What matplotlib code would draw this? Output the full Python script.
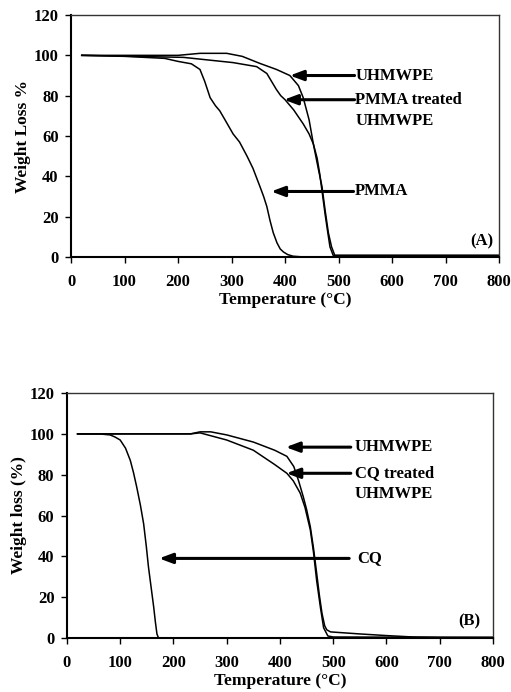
import matplotlib.pyplot as plt

# ---- panel A data ----
temp_uhmwpe_a = [20, 100, 200, 241, 291, 320, 353, 384, 409, 425, 434, 445, 453, 462, 469, 475, 481, 487, 493, 500, 600, 700, 800]
wt_uhmwpe_a = [100, 100, 100, 101, 101, 99.5, 96, 93, 90, 85, 79, 68, 56, 44, 35, 23, 12, 5, 0.8, 0.8, 0.8, 0.8, 0.8]

temp_treated_a = [20, 100, 210, 260, 303, 347, 366, 375, 384, 392, 400, 416, 434, 445, 453, 460, 465, 470, 475, 480, 484, 490, 500, 800]
wt_treated_a = [100, 99.6, 99, 97.6, 96.4, 94.4, 91, 87, 83, 80, 78, 73, 66, 61, 56, 49, 41, 31, 21, 12, 5, 0.8, 0.8, 0.8]

temp_pmma = [20, 100, 175, 200, 225, 241, 250, 260, 270, 278, 290, 303, 315, 329, 340, 353, 360, 366, 372, 378, 385, 391, 397, 405, 415, 430, 500, 800]
wt_pmma = [100, 99.5, 98.5, 97, 95.8, 93, 87, 79, 75, 72.5, 67, 61, 57, 50, 44, 35, 30, 25, 18, 12, 7, 4, 2.5, 1.2, 0.4, 0.1, 0, 0]

# ---- panel B data ----
temp_uhmwpe_b = [20, 100, 232, 250, 270, 300, 350, 390, 413, 426, 435, 444, 450, 457, 463, 469, 474, 479, 484, 488, 495, 550, 600, 650, 700, 800]
wt_uhmwpe_b = [100, 100, 100, 101, 101, 99.5, 96, 92, 89, 84, 77, 69, 63, 54.5, 44, 31.6, 21, 12, 6, 4, 3, 2, 1.2, 0.5, 0.3, 0.3]

temp_treated_b = [20, 100, 232, 250, 300, 350, 390, 413, 425, 438, 447, 457, 463, 469, 476, 482, 490, 500, 800]
wt_treated_b = [100, 100, 100, 100.5, 97, 92, 85, 80.7, 77, 71, 64, 53, 42, 28, 15, 5, 1, 0.5, 0.3]

temp_cq = [20, 60, 81, 90, 100, 110, 119, 125, 131, 138, 144, 149, 153, 158, 163, 166, 169, 172]
wt_cq = [100, 100, 99.5, 98.5, 97, 93, 87, 81, 74, 65, 56, 45, 35, 25, 15, 8, 2, 0]

font = 'Liberation Serif'
plt.rcParams['font.family'] = font
plt.rcParams['font.weight'] = 'bold'

fig = plt.figure(figsize=(5.11, 6.92), dpi=100)
axA = fig.add_axes([0.139, 0.6286, 0.8376, 0.3497])
axB = fig.add_axes([0.131, 0.078, 0.8337, 0.354])


def style(ax, ylabel):
    ax.set_xlim(0, 800)
    ax.set_ylim(0, 120)
    ax.set_xticks(range(0, 801, 100))
    ax.set_yticks(range(0, 121, 20))
    ax.tick_params(direction='out', length=4, width=1, labelsize=12)
    ax.tick_params(axis='x', pad=8)
    ax.tick_params(axis='y', pad=5)
    for lab in ax.get_xticklabels() + ax.get_yticklabels():
        lab.set_fontweight('bold')
    for s in ['left', 'bottom']:
        ax.spines[s].set_linewidth(1.5)
    for s in ['top', 'right']:
        ax.spines[s].set_linewidth(1.0)
        ax.spines[s].set_color('#333333')
    ax.set_xlabel('Temperature (°C)', fontsize=12.5, fontweight='bold', labelpad=2)
    ax.set_ylabel(ylabel, fontsize=12.5, fontweight='bold', labelpad=2)


def arrow(ax, tip_x, tail_x, y, text, text_x):
    ax.annotate('', xy=(tip_x, y), xytext=(tail_x, y),
                arrowprops=dict(arrowstyle='-|>,head_length=0.8,head_width=0.3',
                                color='black', lw=2.2, shrinkA=0, shrinkB=0))
    ax.text(text_x, y, text, fontsize=12, fontweight='bold', ha='left', va='center')


# Panel A
axA.plot(temp_uhmwpe_a, wt_uhmwpe_a, color='black', lw=1.1)
axA.plot(temp_treated_a, wt_treated_a, color='black', lw=1.1)
axA.plot(temp_pmma, wt_pmma, color='black', lw=1.1)
style(axA, 'Weight Loss %')
arrow(axA, 409, 530, 90, 'UHMWPE', 531)
arrow(axA, 398, 530, 78, 'PMMA treated', 531)
axA.text(531, 67.5, 'UHMWPE', fontsize=12, fontweight='bold', ha='left', va='center')
arrow(axA, 374, 528, 32.5, 'PMMA', 531)
axA.text(768, 7.5, '(A)', fontsize=12, fontweight='bold', ha='center', va='center')

# Panel B
axB.plot(temp_uhmwpe_b, wt_uhmwpe_b, color='black', lw=1.1)
axB.plot(temp_treated_b, wt_treated_b, color='black', lw=1.1)
axB.plot(temp_cq, wt_cq, color='black', lw=1.1)
style(axB, 'Weight loss (%)')
arrow(axB, 411, 533, 93.5, 'UHMWPE', 540)
arrow(axB, 412, 533, 80.7, 'CQ treated', 540)
axB.text(540, 70.5, 'UHMWPE', fontsize=12, fontweight='bold', ha='left', va='center')
arrow(axB, 173, 530, 39, 'CQ', 546)
axB.text(755, 8, '(B)', fontsize=12, fontweight='bold', ha='center', va='center')

fig.savefig('out.png', dpi=100)
